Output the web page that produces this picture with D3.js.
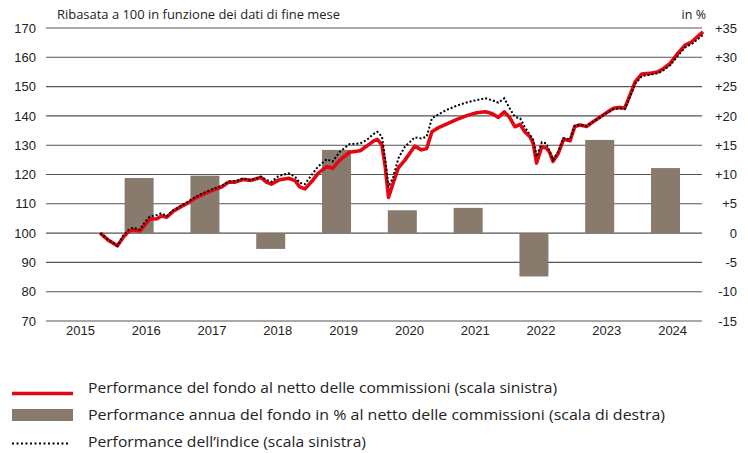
<!DOCTYPE html>
<html>
<head>
<meta charset="utf-8">
<script src="https://cdn.jsdelivr.net/npm/d3@7"></script>
<style>
  body { margin: 0; background: #fff; }
  svg { display: block; font-family: "Open Sans", "Noto Sans", sans-serif; }
</style>
</head>
<body>
<svg id="chart" width="748" height="453"></svg>
<script>
// dati (fine mese, ribasati a 100)
var dates = [2015.81, 2015.93, 2016.07, 2016.16, 2016.24, 2016.31, 2016.41, 2016.49, 2016.56, 2016.67,
  2016.74, 2016.82, 2016.92, 2017.05, 2017.15, 2017.25, 2017.35, 2017.45, 2017.55, 2017.66,
  2017.76, 2017.86, 2017.98, 2018.10, 2018.25, 2018.34, 2018.41, 2018.52, 2018.67, 2018.77,
  2018.84, 2018.92, 2019.02, 2019.12, 2019.25, 2019.34, 2019.45, 2019.60, 2019.76, 2019.86,
  2019.96, 2020.02, 2020.09, 2020.14, 2020.19, 2020.26, 2020.34, 2020.44, 2020.59, 2020.69,
  2020.77, 2020.85, 2020.95, 2021.07, 2021.23, 2021.38, 2021.53, 2021.66, 2021.76, 2021.86,
  2021.95, 2022.03, 2022.11, 2022.19, 2022.26, 2022.34, 2022.39, 2022.44, 2022.52, 2022.59,
  2022.64, 2022.69, 2022.77, 2022.85, 2022.95, 2023.02, 2023.10, 2023.20, 2023.30, 2023.40,
  2023.51, 2023.61, 2023.71, 2023.78, 2023.86, 2023.94, 2024.04, 2024.16, 2024.29, 2024.37,
  2024.47, 2024.59, 2024.70, 2024.80, 2024.90, 2024.97]

var fund = [100.0, 97.6, 95.7, 98.6, 100.5, 101.1, 100.7, 102.8, 104.7, 104.9,
  105.8, 105.4, 107.5, 109.2, 110.4, 111.9, 113.0, 114.0, 114.9, 115.8,
  117.4, 117.4, 118.3, 118.0, 119.0, 117.3, 116.7, 118.1, 118.7, 117.9,
  115.8, 115.1, 117.5, 120.4, 122.7, 122.1, 124.9, 127.6, 128.1, 129.7,
  131.4, 132.0, 130.1, 122.7, 112.2, 117.0, 122.3, 124.9, 129.7, 128.4,
  128.9, 134.6, 136.0, 137.2, 138.8, 140.1, 141.1, 141.4, 140.8, 139.5,
  141.4, 139.5, 136.3, 137.1, 134.6, 132.9, 130.6, 123.9, 129.5, 129.0,
  127.5, 124.5, 127.2, 132.0, 131.5, 136.4, 136.9, 136.4, 138.0, 139.5,
  141.2, 142.6, 142.9, 142.6, 147.1, 151.7, 154.3, 154.5, 155.1, 156.2,
  157.9, 161.4, 164.2, 165.3, 167.3, 168.7]

var index = [100.0, 97.8, 95.6, 99.2, 101.1, 101.9, 101.1, 103.8, 105.6, 106.2,
  106.8, 105.8, 107.8, 109.5, 110.8, 112.2, 113.4, 114.4, 115.3, 116.2,
  117.6, 117.7, 118.7, 118.1, 119.3, 118.1, 117.5, 119.5, 120.4, 119.3,
  117.2, 116.7, 119.8, 122.7, 125.2, 124.4, 127.8, 130.4, 130.6, 131.8,
  133.8, 134.6, 132.9, 125.0, 115.8, 119.0, 125.5, 129.5, 132.7, 132.3,
  132.9, 139.2, 140.5, 142.0, 143.5, 144.6, 145.4, 146.0, 145.4, 144.5,
  146.0, 142.6, 139.7, 139.2, 136.3, 133.5, 131.8, 126.1, 131.0, 130.6,
  127.8, 125.0, 127.8, 132.4, 132.0, 136.6, 137.0, 136.5, 138.0, 139.4,
  141.0, 142.3, 142.6, 142.3, 146.6, 151.0, 153.6, 154.0, 154.6, 155.6,
  157.3, 160.6, 163.4, 164.6, 166.3, 167.7]

// performance annua in %
var barYears = [2016, 2017, 2018, 2019, 2020, 2021, 2022, 2023, 2024]
var barValues = [9.4, 9.8, -2.7, 14.2, 3.9, 4.3, -7.4, 15.9, 11.1]

var yearLabels = [2015, 2016, 2017, 2018, 2019, 2020, 2021, 2022, 2023, 2024]
var leftTicks = [70, 80, 90, 100, 110, 120, 130, 140, 150, 160, 170]
var rightTicks = [-15, -10, -5, 0, 5, 10, 15, 20, 25, 30, 35]

var legendItems = [
  'Performance del fondo al netto delle commissioni (scala sinistra)',
  'Performance annua del fondo in % al netto delle commissioni (scala di destra)',
  'Performance dell\u2019indice (scala sinistra)'
]

var red = '#e30613', brown = '#887b6e', ink = '#222'

var svg = d3.select('#chart')

var x = d3.scaleLinear().domain([2015, 2025]).range([47, 705])
var yL = d3.scaleLinear().domain([70, 170]).range([321, 28])
var yR = d3.scaleLinear().domain([-15, 35]).range([321, 28])

// griglia
svg.append('g').selectAll('line').data(leftTicks).enter().append('line')
    .attr('x1', 46).attr('x2', 702)
    .attr('y1', function(d){return yL(d)}).attr('y2', function(d){return yL(d)})
    .attr('stroke', '#555').attr('stroke-width', 1.1)

// asse sinistro
var axL = svg.append('g').attr('transform', 'translate(36,0)')
    .call(d3.axisLeft(yL).tickValues(leftTicks).tickSize(0).tickPadding(0))
axL.select('.domain').remove()
axL.selectAll('text').attr('font-size', 13).attr('fill', ink).attr('font-family', null)

// asse destro
var axR = svg.append('g').attr('transform', 'translate(737,0)')
    .call(d3.axisLeft(yR).tickValues(rightTicks).tickSize(0).tickPadding(0)
      .tickFormat(function(d){return d > 0 ? '+' + d : String(d)}))
axR.select('.domain').remove()
axR.selectAll('text').attr('font-size', 13).attr('fill', ink).attr('font-family', null)

// anni
var axX = svg.append('g').attr('transform', 'translate(0,326)')
    .call(d3.axisBottom(x).tickValues(yearLabels.map(function(d){return d + 0.5}))
      .tickSize(0).tickPadding(0).tickFormat(function(d){return Math.floor(d)}))
axX.select('.domain').remove()
axX.selectAll('text').attr('font-size', 13).attr('fill', ink).attr('font-family', null)

// barre
svg.append('g').selectAll('rect').data(barValues).enter().append('rect')
    .attr('x', function(d, i){return x(barYears[i] + 0.4) - 14.5})
    .attr('width', 29)
    .attr('y', function(d){return yR(Math.max(0, d))})
    .attr('height', function(d){return Math.abs(yR(d) - yR(0))})
    .attr('fill', brown)

// linee
var pts = dates.map(function(d, i){return {t: d, f: fund[i], ix: index[i]}})

svg.append('path').datum(pts)
    .attr('d', d3.line().x(function(d){return x(d.t)}).y(function(d){return yL(d.f)}))
    .attr('fill', 'none').attr('stroke', red).attr('stroke-width', 3.6)
    .attr('stroke-linejoin', 'round')

svg.append('path').datum(pts)
    .attr('d', d3.line().x(function(d){return x(d.t)}).y(function(d){return yL(d.ix)}))
    .attr('fill', 'none').attr('stroke', '#000').attr('stroke-width', 2)
    .attr('stroke-dasharray', '2,2')

// titoli
svg.append('text').attr('x', 57).attr('y', 19).attr('font-size', 12.5).attr('fill', ink)
    .attr('textLength', 283).attr('lengthAdjust', 'spacingAndGlyphs')
    .text('Ribasata a 100 in funzione dei dati di fine mese')
svg.append('text').attr('x', 706).attr('y', 19).attr('font-size', 12.5).attr('fill', ink)
    .attr('text-anchor', 'end').text('in %')

// legenda
var lg = svg.append('g')
lg.append('line').attr('x1', 12).attr('x2', 73).attr('y1', 393.5).attr('y2', 393.5)
    .attr('stroke', red).attr('stroke-width', 3.5)
lg.append('rect').attr('x', 12).attr('y', 409).attr('width', 61).attr('height', 12).attr('fill', brown)
lg.append('line').attr('x1', 12).attr('x2', 69).attr('y1', 443.5).attr('y2', 443.5)
    .attr('stroke', '#000').attr('stroke-width', 2).attr('stroke-dasharray', '2,2.5')

var lgW = [469, 577, 278], lgY = [393, 420, 447]
lg.selectAll('text').data(legendItems).enter().append('text')
    .attr('x', 88).attr('y', function(d, i){return lgY[i]})
    .attr('font-size', 15).attr('fill', ink)
    .attr('textLength', function(d, i){return lgW[i]}).attr('lengthAdjust', 'spacingAndGlyphs')
    .text(function(d){return d})
</script>
</body>
</html>
